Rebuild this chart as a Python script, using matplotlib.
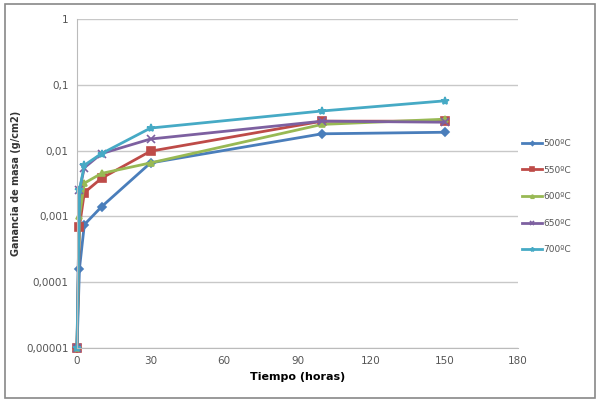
import matplotlib
matplotlib.use("Agg")
import matplotlib.pyplot as plt
from matplotlib.patches import Rectangle

# data
horas = [0, 1, 3, 10, 30, 100, 150]
g500 = [0.00001, 0.00016, 0.00075, 0.0014, 0.0065, 0.018, 0.019]
g550 = [0.00001, 0.0007, 0.0023, 0.0038, 0.0098, 0.028, 0.028]
g600 = [0.00001, 0.001, 0.0032, 0.0045, 0.0065, 0.025, 0.030]
g650 = [0.00001, 0.0025, 0.0055, 0.0090, 0.015, 0.028, 0.027]
g700 = [0.00001, 0.0025, 0.0060, 0.0090, 0.022, 0.040, 0.057]
etiquetas = ['500ºC', '550ºC', '600ºC', '650ºC', '700ºC']

ytick_vals = [0.00001, 0.0001, 0.001, 0.01, 0.1, 1]
ytick_txt = ['0,00001', '0,0001', '0,001', '0,01', '0,1', '1']
xtick_vals = [0, 30, 60, 90, 120, 150, 180]

series = [g500, g550, g600, g650, g700]
colors = ['#4a7ebb', '#be4b48', '#98b954', '#7d60a0', '#46aac5']
markers = ['D', 's', '^', 'x', '*']
msizes = [4, 6, 5, 6, 6]

fig = plt.figure(figsize=(6, 4.03), dpi=100)
fig.patches.append(Rectangle((0.008, 0.012), 0.984, 0.978, transform=fig.transFigure,
                             fill=False, edgecolor='#888888', lw=1.2))
ax = fig.add_axes([77 / 600, 1 - 348 / 403, (518 - 77) / 600, (348 - 19) / 403])

for y, c, m, ms, lab in zip(series, colors, markers, msizes, etiquetas):
    ax.plot(horas, y, color=c, marker=m, ms=ms, lw=2, label=lab,
            markeredgecolor=c, markeredgewidth=1.2, clip_on=False)

ax.set_yscale('log')
ax.set_ylim(0.00001, 1)
ax.set_xlim(0, 180)
ax.set_yticks(ytick_vals)
ax.set_yticklabels(ytick_txt)
ax.minorticks_off()
ax.set_xticks(xtick_vals)
ax.grid(axis='y', color='#c8c8c8', lw=1)
ax.set_axisbelow(True)
for s in ['top', 'right']:
    ax.spines[s].set_visible(False)
ax.spines['left'].set_color('#bbbbbb')
ax.spines['bottom'].set_color('#bbbbbb')
ax.tick_params(length=0, labelsize=7.5, labelcolor='#555555', pad=6)

ax.set_xlabel('Tiempo (horas)', fontsize=8, fontweight='bold', labelpad=4)
ax.set_ylabel('Ganancia de masa (g/cm2)', fontsize=7, fontweight='bold', labelpad=4,
              color='#333333')

leg = ax.legend(loc='center left', bbox_to_anchor=(0.99, 0.46), frameon=False,
                fontsize=6.5, handlelength=2.2, labelspacing=1.95, markerscale=0.5,
                handletextpad=0.2)
for t in leg.get_texts():
    t.set_color('#555555')

fig.savefig('out.png', dpi=100)
